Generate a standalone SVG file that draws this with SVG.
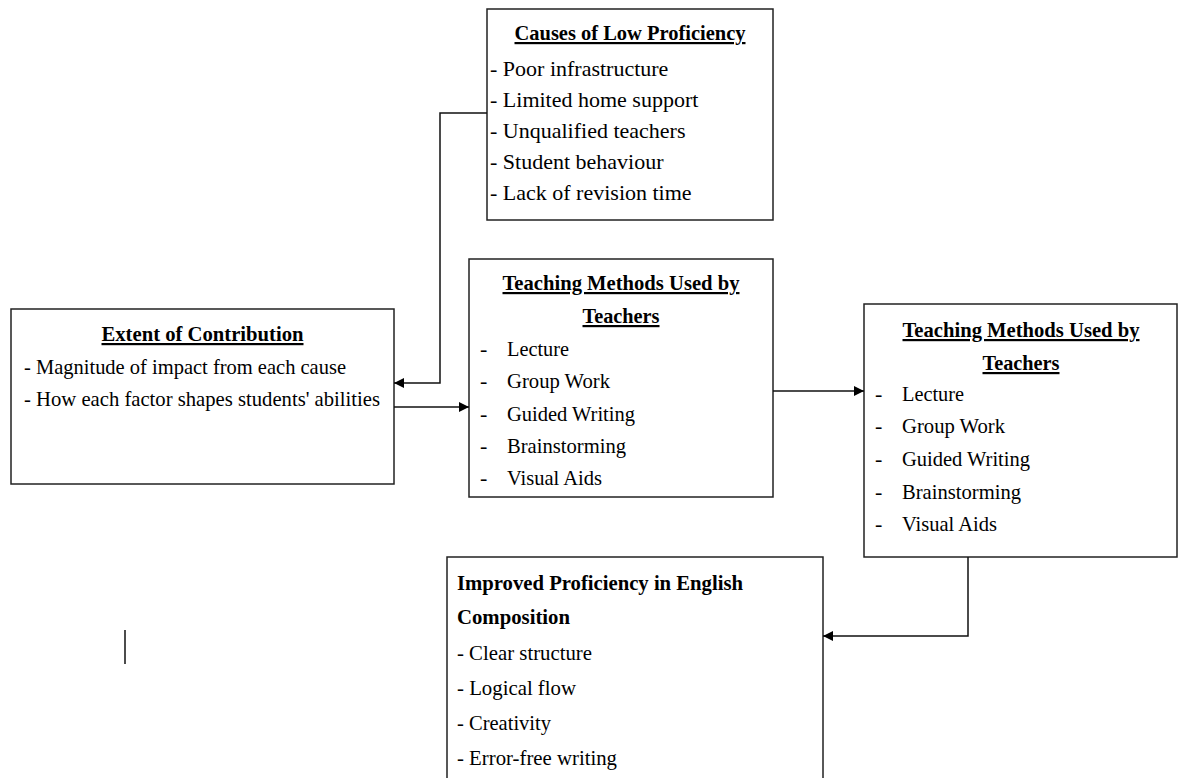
<svg xmlns="http://www.w3.org/2000/svg" width="1179" height="778" viewBox="0 0 1179 778">
<defs>
<style>
.box{fill:#fff;stroke:#222;stroke-width:1.5}
.t{font-family:"Liberation Serif","Times New Roman",serif;font-size:22px;fill:#000}
.h{font-weight:bold;text-decoration:underline}
.b{font-weight:bold}
.c{text-anchor:middle}
.con{fill:none;stroke:#111;stroke-width:1.5}
</style>
<marker id="arr" markerUnits="userSpaceOnUse" markerWidth="10" markerHeight="10" refX="10" refY="5" orient="auto" viewBox="0 0 10 10">
<path d="M0,0 L10,5 L0,10 z" fill="#000"/>
</marker>
</defs>
<rect width="1179" height="778" fill="#fff"/>

<g id="causes">
<rect class="box" x="487" y="9" width="286" height="211"/>
<text class="t h c" x="630" y="40" textLength="231" lengthAdjust="spacingAndGlyphs">Causes of Low Proficiency</text>
<text class="t" x="490" y="76">- Poor infrastructure</text>
<text class="t" x="490" y="107">- Limited home support</text>
<text class="t" x="490" y="138">- Unqualified teachers</text>
<text class="t" x="490" y="169">- Student behaviour</text>
<text class="t" x="490" y="200">- Lack of revision time</text>
</g>

<g id="extent">
<rect class="box" x="11" y="309" width="383" height="175"/>
<text class="t h c" x="202.5" y="341" textLength="202" lengthAdjust="spacingAndGlyphs">Extent of Contribution</text>
<text class="t" x="24" y="374" textLength="322" lengthAdjust="spacingAndGlyphs">- Magnitude of impact from each cause</text>
<text class="t" x="24" y="406" textLength="356" lengthAdjust="spacingAndGlyphs">- How each factor shapes students' abilities</text>
</g>

<g id="methods1">
<rect class="box" x="469" y="259" width="304" height="238"/>
<text class="t h c" x="621" y="290" textLength="237" lengthAdjust="spacingAndGlyphs">Teaching Methods Used by</text>
<text class="t h c" x="621" y="323" textLength="77" lengthAdjust="spacingAndGlyphs">Teachers</text>
<text class="t" x="480" y="356">-</text><text class="t" x="507" y="356" textLength="62" lengthAdjust="spacingAndGlyphs">Lecture</text>
<text class="t" x="480" y="388">-</text><text class="t" x="507" y="388" textLength="103" lengthAdjust="spacingAndGlyphs">Group Work</text>
<text class="t" x="480" y="421">-</text><text class="t" x="507" y="421" textLength="128" lengthAdjust="spacingAndGlyphs">Guided Writing</text>
<text class="t" x="480" y="453">-</text><text class="t" x="507" y="453" textLength="119" lengthAdjust="spacingAndGlyphs">Brainstorming</text>
<text class="t" x="480" y="485">-</text><text class="t" x="507" y="485" textLength="95" lengthAdjust="spacingAndGlyphs">Visual Aids</text>
</g>

<g id="methods2">
<rect class="box" x="864" y="304" width="313" height="253"/>
<text class="t h c" x="1021" y="337" textLength="237" lengthAdjust="spacingAndGlyphs">Teaching Methods Used by</text>
<text class="t h c" x="1021" y="370" textLength="77" lengthAdjust="spacingAndGlyphs">Teachers</text>
<text class="t" x="875" y="401">-</text><text class="t" x="902" y="401" textLength="62" lengthAdjust="spacingAndGlyphs">Lecture</text>
<text class="t" x="875" y="433">-</text><text class="t" x="902" y="433" textLength="103" lengthAdjust="spacingAndGlyphs">Group Work</text>
<text class="t" x="875" y="466">-</text><text class="t" x="902" y="466" textLength="128" lengthAdjust="spacingAndGlyphs">Guided Writing</text>
<text class="t" x="875" y="499">-</text><text class="t" x="902" y="499" textLength="119" lengthAdjust="spacingAndGlyphs">Brainstorming</text>
<text class="t" x="875" y="531">-</text><text class="t" x="902" y="531" textLength="95" lengthAdjust="spacingAndGlyphs">Visual Aids</text>
</g>

<g id="improved">
<rect class="box" x="447" y="557" width="376" height="240"/>
<text class="t b" x="457" y="590" textLength="286" lengthAdjust="spacingAndGlyphs">Improved Proficiency in English</text>
<text class="t b" x="457" y="624" textLength="113" lengthAdjust="spacingAndGlyphs">Composition</text>
<text class="t" x="457" y="660" textLength="135" lengthAdjust="spacingAndGlyphs">- Clear structure</text>
<text class="t" x="457" y="695" textLength="119" lengthAdjust="spacingAndGlyphs">- Logical flow</text>
<text class="t" x="457" y="730" textLength="94" lengthAdjust="spacingAndGlyphs">- Creativity</text>
<text class="t" x="457" y="765" textLength="160" lengthAdjust="spacingAndGlyphs">- Error-free writing</text>
</g>

<g id="connectors">
<path class="con" d="M487,113 H440 V383 H394" marker-end="url(#arr)"/>
<path class="con" d="M394,407 H469" marker-end="url(#arr)"/>
<path class="con" d="M773,391 H864" marker-end="url(#arr)"/>
<path class="con" d="M968,557 V636 H823" marker-end="url(#arr)"/>
</g>

<line x1="125" y1="630" x2="125" y2="664" stroke="#111" stroke-width="1.5"/>
</svg>
